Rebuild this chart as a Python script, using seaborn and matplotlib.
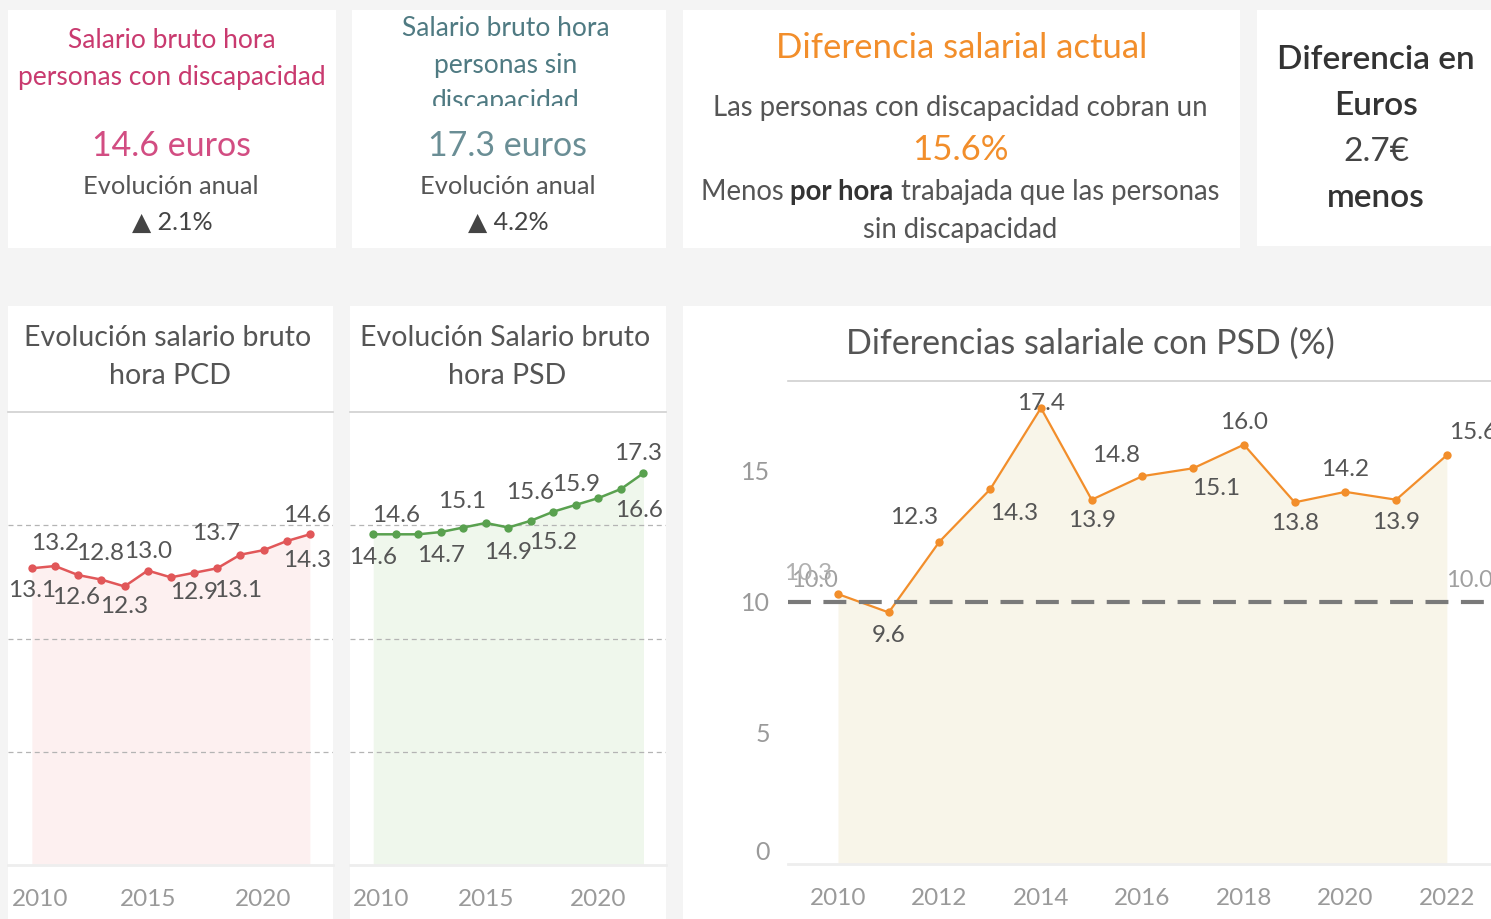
import matplotlib
matplotlib.use("Agg")
import matplotlib.pyplot as plt
from matplotlib.patches import Rectangle
from matplotlib.transforms import ScaledTranslation
import seaborn as sns
import pandas as pd

# ---------------- data ----------------
years = list(range(2010, 2023))
salario_pcd = [13.1, 13.2, 12.8, 12.6, 12.3, 13.0, 12.7, 12.9, 13.1, 13.7, 13.9, 14.3, 14.6]
salario_psd = [14.6, 14.6, 14.6, 14.7, 14.9, 15.1, 14.9, 15.2, 15.6, 15.9, 16.2, 16.6, 17.3]
diferencia_pct = [10.3, 9.6, 12.3, 14.3, 17.4, 13.9, 14.8, 15.1, 16.0, 13.8, 14.2, 13.9, 15.6]
referencia = 10.0

kpi_pcd = "14.6 euros"
kpi_psd = "17.3 euros"
evol_pcd = "2.1%"
evol_psd = "4.2%"
kpi_dif_pct = "15.6%"
kpi_dif_eur = "2.7€"

small_xticks = [2010, 2015, 2020]
big_xticks = [2010, 2012, 2014, 2016, 2018, 2020, 2022]
big_yticks = [0, 5, 10, 15]

# label placement (pixel offsets dx, dy; None = hidden label) -- styling only
lab_pcd = [(0, 22), (0, -23), (22, -22), (-25, 18), (0, 20), (0, -19), None, (0, 20),
           (21, 22), (-24, -21), None, (20, 19), (-3, -19)]
lab_psd = [(0, 23), (0, -19), None, (0, 23), None, (-24, -21), (0, 25), (22, 22),
           (-23, -19), (0, -20), None, (18, 21), (-5, -20)]
lab_big = [(-30, -21), (0, 23), (-25, -24), (24, 24), (0, -4), (0, 21), (-26, -21), (23, 20),
           (0, -22), (0, 21), (0, -22), (0, 23), (26, -23)]

# ---------------- style ----------------
sns.set_theme(style="white")
plt.rcParams["font.family"] = ["Lato", "DejaVu Sans"]

W, H = 1491, 919
fig = plt.figure(figsize=(W / 100, H / 100), dpi=100, facecolor="#f4f4f4")


def panel(x0, y0, x1, y1, color="white", z=-1):
    r = Rectangle((x0 / W, 1 - y1 / H), (x1 - x0) / W, (y1 - y0) / H,
                  transform=fig.transFigure, facecolor=color, edgecolor="none", zorder=z)
    fig.add_artist(r)


def ftext(x, y, s, **kw):
    kw.setdefault("ha", "center")
    kw.setdefault("va", "center")
    return fig.text(x / W, 1 - y / H, s, **kw)


def add_ax(x0, y0, x1, y1):
    ax = fig.add_axes([x0 / W, 1 - y1 / H, (x1 - x0) / W, (y1 - y0) / H])
    ax.set_facecolor("none")
    return ax


# panels
panel(8, 10, 336, 248)
panel(352, 10, 666, 248)
panel(683, 10, 1240, 248)
panel(1257, 10, 1491, 246)
panel(8, 306, 333, 919)
panel(350, 306, 666, 919)
panel(683, 306, 1491, 919)

TXT = "#555555"
PINK = "#c93a6f"
PINK2 = "#d24d82"
TEAL = "#4f7a82"
TEAL2 = "#6a8e95"
ORANGE = "#f28e2b"

# --- card 1
ftext(172, 41, "Salario bruto hora", color=PINK, fontsize=19)
ftext(172, 77, "personas con discapacidad", color=PINK, fontsize=19)
ftext(172, 146, kpi_pcd, color=PINK2, fontsize=24.5)
ftext(171, 187, "Evolución anual", color=TXT, fontsize=18.3)
ftext(172, 222, "▲ " + evol_pcd, color="#444444", fontsize=18)
# --- card 2 (title clipped)
ftext(506, 29, "Salario bruto hora", color=TEAL, fontsize=19)
ftext(506, 65, "personas sin", color=TEAL, fontsize=19)
ftext(506, 102, "discapacidad", color=TEAL, fontsize=19)
panel(352, 106, 666, 126, z=5)
ftext(508, 146, kpi_psd, color=TEAL2, fontsize=24.5)
ftext(508, 187, "Evolución anual", color=TXT, fontsize=18.3)
ftext(508, 222, "▲ " + evol_psd, color="#444444", fontsize=18)
# --- card 3
ftext(962, 48, "Diferencia salarial actual", color=ORANGE, fontsize=25)
ftext(960, 108, "Las personas con discapacidad cobran un", color=TXT, fontsize=19.8)
ftext(960, 150, kpi_dif_pct, color=ORANGE, fontsize=25)
renderer = fig.canvas.get_renderer()
parts = [("Menos ", "normal", TXT), ("por hora", "bold", "#333333"),
         (" trabajada que las personas", "normal", TXT)]
tobjs = [ftext(0, 192, s, ha="left", color=c, fontsize=19.8, fontweight=w) for s, w, c in parts]
widths = [t.get_window_extent(renderer).width for t in tobjs]
xstart = 960 - sum(widths) / 2
for t, wdt in zip(tobjs, widths):
    t.set_x(xstart / W)
    xstart += wdt
ftext(960, 230, "sin discapacidad", color=TXT, fontsize=19.8)
# --- card 4
ftext(1376, 60, "Diferencia en", color="#333333", fontsize=24, fontweight="semibold")
ftext(1376, 106, "Euros", color="#333333", fontsize=24, fontweight="semibold")
ftext(1376, 152, kpi_dif_eur, color="#444444", fontsize=24)
ftext(1376, 198, "menos", color="#333333", fontsize=24, fontweight="semibold")

# chart headers
ftext(168, 338, "Evolución salario bruto", color=TXT, fontsize=20.5)
ftext(170, 376, "hora PCD", color=TXT, fontsize=20.5)
ftext(505, 338, "Evolución Salario bruto", color=TXT, fontsize=20.5)
ftext(507, 376, "hora PSD", color=TXT, fontsize=20.5)
ftext(1090, 344, "Diferencias salariale con PSD (%)", color=TXT, fontsize=24.5)


def label_points(ax, xs, ys, offs, fs=17.5, color="#555555"):
    for x, y, o in zip(xs, ys, offs):
        if o is None:
            continue
        ax.annotate(f"{y:.1f}", (x, y), xytext=(o[0] * 0.72, -o[1] * 0.72),
                    textcoords="offset points", ha="center", va="center",
                    fontsize=fs, color=color, zorder=6, annotation_clip=False)


def small_chart(box, values, line_color, fill_color, offs):
    ax = add_ax(*box)
    df = pd.DataFrame({"year": years, "value": values})
    ax.fill_between(df["year"], df["value"], 0, color=fill_color, lw=0, zorder=0.2)
    sns.lineplot(data=df, x="year", y="value", ax=ax, color=line_color, marker="o",
                 markersize=6, markeredgewidth=0, linewidth=1.8, zorder=3)
    ax.set_xlim(2008.97, 2023.0)
    ax.set_ylim(0, 20)
    ax.set_yticks([5, 10, 15])
    ax.set_yticklabels([])
    ax.set_axisbelow(True)
    ax.yaxis.grid(True, linestyle=(0, (4, 3)), color="#b4b4b4", linewidth=0.9)
    ax.set_xticks(small_xticks)
    ax.set_xticklabels([str(t) for t in small_xticks])
    ax.tick_params(axis="both", length=0)
    ax.tick_params(axis="x", pad=17, labelsize=17.5, labelcolor="#9a9a9a")
    first = ax.get_xticklabels()[0]
    first.set_transform(first.get_transform() + ScaledTranslation(8 / 100, 0, fig.dpi_scale_trans))
    ax.set_xlabel("")
    ax.set_ylabel("")
    for s in ["left", "right"]:
        ax.spines[s].set_visible(False)
    ax.spines["top"].set_color("#d0d0d0")
    ax.spines["top"].set_linewidth(1.2)
    ax.spines["bottom"].set_color("#eeeeee")
    ax.spines["bottom"].set_linewidth(2)
    label_points(ax, years, values, offs)
    return ax


small_chart((8, 412, 333, 865), salario_pcd, "#e15759", "#fdf0f0", lab_pcd)
small_chart((350, 412, 666, 865), salario_psd, "#59a14f", "#eff7ec", lab_psd)

# big chart
ax3 = add_ax(788, 381, 1491, 864)
dfd = pd.DataFrame({"year": years, "pct": diferencia_pct})
ax3.fill_between(dfd["year"], dfd["pct"], 0, color="#f8f5e9", lw=0, zorder=0.2)
sns.lineplot(data=dfd, x="year", y="pct", ax=ax3, color=ORANGE, marker="o",
             markersize=6, markeredgewidth=0, linewidth=1.6, zorder=3)
ax3.axhline(referencia, color="#7a7a7a", linewidth=3, linestyle=(0, (5.5, 3)), zorder=4)
ax3.set_xlim(2009.015, 2022.87)
ax3.set_ylim(0, 18.43)
ax3.set_xticks(big_xticks)
ax3.set_xticklabels([str(t) for t in big_xticks])
ax3.set_yticks(big_yticks)
ax3.set_yticklabels([str(t) for t in big_yticks])
ax3.tick_params(axis="x", length=0, pad=17, labelsize=17.5, labelcolor="#9a9a9a")
ax3.tick_params(axis="y", length=6, width=1, color="#e4e4e4", pad=7, labelsize=18,
                labelcolor="#9a9a9a")
ax3.get_yticklabels()[0].set_va("bottom")
ax3.set_xlabel("")
ax3.set_ylabel("")
for s in ["left", "right"]:
    ax3.spines[s].set_visible(False)
ax3.spines["top"].set_color("#d0d0d0")
ax3.spines["top"].set_linewidth(1.2)
ax3.spines["bottom"].set_color("#eeeeee")
ax3.spines["bottom"].set_linewidth(2)

# reference labels
ax3.text(0.038, referencia + 0.8, f"{referencia:.1f}", transform=ax3.get_yaxis_transform(),
         ha="center", va="center", fontsize=17, color="#a0a0a0", zorder=6)
ax3.text(0.97, referencia + 0.8, f"{referencia:.1f}", transform=ax3.get_yaxis_transform(),
         ha="center", va="center", fontsize=17, color="#a0a0a0", zorder=6)

for i, (x, y, o) in enumerate(zip(years, diferencia_pct, lab_big)):
    ax3.annotate(f"{y:.1f}", (x, y), xytext=(o[0] * 0.72, -o[1] * 0.72),
                 textcoords="offset points", ha="center", va="center", fontsize=17.5,
                 color="#555555" if i > 0 else "#b0b0b0", zorder=6, annotation_clip=False)

fig.savefig("out.png", dpi=100, facecolor=fig.get_facecolor())
